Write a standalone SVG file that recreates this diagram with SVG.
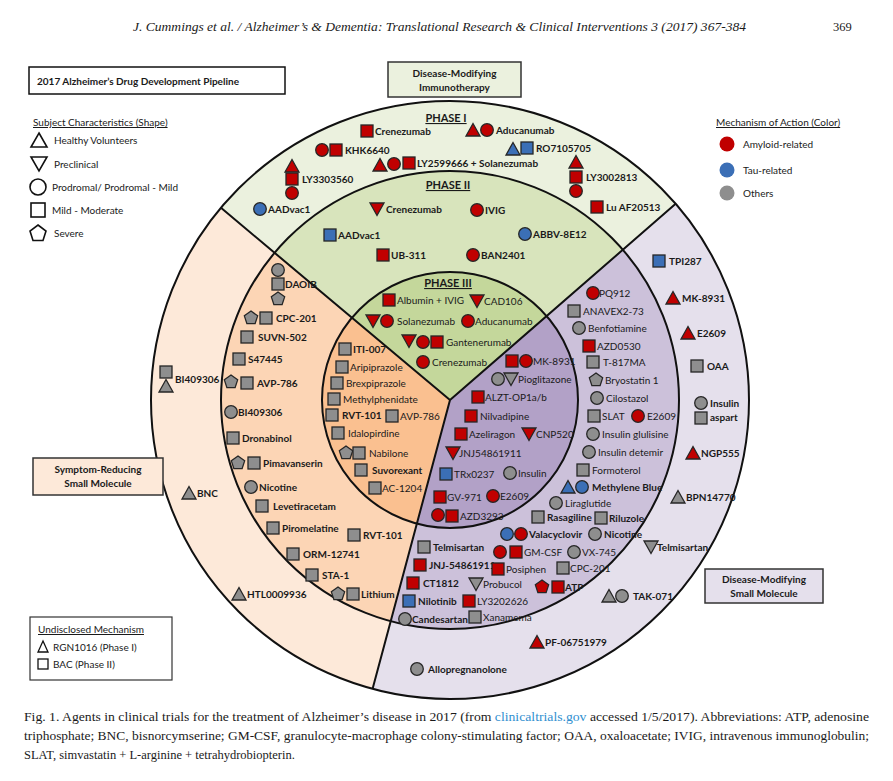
<svg xmlns="http://www.w3.org/2000/svg" width="893" height="781" viewBox="0 0 893 781">
<style>
.t{font-family:Lato,"Open Sans","Liberation Sans",sans-serif;font-size:10px;fill:#1a1a1a}
.b{font-weight:bold}
.lg{font-family:Lato,"Open Sans","Liberation Sans",sans-serif;font-size:10px;fill:#1a1a1a}
.ph{font-family:Lato,"Open Sans","Liberation Sans",sans-serif;font-size:11px;font-weight:bold;fill:#1a1a1a;text-decoration:underline;text-anchor:middle}
.bx{font-family:Lato,"Open Sans","Liberation Sans",sans-serif;font-size:10px;font-weight:bold;fill:#1a1a1a;text-anchor:middle}
.r{fill:#c00000}.u{fill:#3b6fb6}.g{fill:#8e8e8e}
use{stroke:#262626;stroke-width:1.3}
.ln{fill:none;stroke:#111;stroke-width:2}
.ol{fill:#fff;stroke:#111;stroke-width:1.6}
.cap{font-family:"Liberation Serif","Times New Roman",serif;font-size:12.5px;fill:#1a1a1a}
</style>
<defs>
<rect id="sq" x="-6" y="-6" width="12" height="12"/>
<circle id="ci" r="6.3"/>
<path id="tu" d="M0,-6.5 L7,6 L-7,6 Z"/>
<path id="td" d="M-7,-6 L7,-6 L0,6.5 Z"/>
<path id="pe" d="M0,-7 L6.66,-2.16 L4.11,5.66 L-4.11,5.66 L-6.66,-2.16 Z"/>
</defs>
<rect width="893" height="781" fill="#fff"/>
<text x="133" y="31" class="cap" font-style="italic" font-size="13.5" textLength="613" lengthAdjust="spacingAndGlyphs">J. Cummings et al. / Alzheimer’s &amp; Dementia: Translational Research &amp; Clinical Interventions 3 (2017) 367-384</text>
<text x="833" y="31" class="cap" font-size="13.5">369</text>

<g id="sectors">
<path d="M450,400 L220.95,207.81 A299,299 0 0 1 675.66,203.84 Z" fill="#ebf1de"/>
<path d="M450,400 L675.66,203.84 A299,299 0 0 1 372.61,688.81 Z" fill="#e5e0ec"/>
<path d="M450,400 L372.61,688.81 A299,299 0 0 1 220.95,207.81 Z" fill="#fde9d9"/>
<path d="M450,400 L274.58,252.80 A229,229 0 0 1 622.83,249.76 Z" fill="#d8e4bc"/>
<path d="M450,400 L622.83,249.76 A229,229 0 0 1 390.73,621.20 Z" fill="#ccc1da"/>
<path d="M450,400 L390.73,621.20 A229,229 0 0 1 274.58,252.80 Z" fill="#fcd5b5"/>
<path d="M450,400 L351.95,317.72 A128,128 0 0 1 546.60,316.02 Z" fill="#c4d79b"/>
<path d="M450,400 L546.60,316.02 A128,128 0 0 1 416.87,523.64 Z" fill="#b2a1c7"/>
<path d="M450,400 L416.87,523.64 A128,128 0 0 1 351.95,317.72 Z" fill="#fac090"/>
<circle cx="450" cy="400" r="299" class="ln" stroke-width="2.2"/>
<circle cx="450" cy="400" r="229" class="ln"/>
<circle cx="450" cy="400" r="128" class="ln"/>
<path d="M450,400 L220.95,207.81 M450,400 L675.66,203.84 M450,400 L372.61,688.81" class="ln"/>
</g>

<g id="title"><rect x="29" y="67" width="256" height="27" fill="#fff" stroke="#111" stroke-width="1.5"/><text x="37" y="85" class="lg b" font-size="11.5">2017 Alzheimer’s Drug Development Pipeline</text></g>
<g id="box-immuno"><rect x="388" y="62" width="133" height="35" fill="#ebf1de" stroke="#333" stroke-width="1.5"/><text x="454.5" y="77" class="bx">Disease-Modifying</text><text x="454.5" y="91" class="bx">Immunotherapy</text></g>
<g id="box-symptom"><rect x="33" y="458" width="130" height="37" fill="#fde9d9" stroke="#333" stroke-width="1.5"/><text x="98" y="473" class="bx">Symptom-Reducing</text><text x="98" y="487" class="bx">Small Molecule</text></g>
<g id="box-dmsm"><rect x="705" y="569" width="118" height="34" fill="#e5e0ec" stroke="#333" stroke-width="1.5"/><text x="764" y="583" class="bx">Disease-Modifying</text><text x="764" y="597" class="bx">Small Molecule</text></g>

<g id="legend-shape">
<text x="33" y="126" class="lg" text-decoration="underline">Subject Characteristics (Shape)</text>
<path d="M39,133 L47,147 L31,147 Z" class="ol"/><text x="54" y="144" class="lg">Healthy Volunteers</text>
<path d="M31,157 L47,157 L39,171 Z" class="ol"/><text x="54" y="168" class="lg">Preclinical</text>
<circle cx="38" cy="187" r="8" class="ol"/><text x="52" y="191" class="lg">Prodromal/ Prodromal - Mild</text>
<rect x="31" y="203" width="14" height="14" class="ol"/><text x="52" y="214" class="lg">Mild - Moderate</text>
<path d="M38,225 L46,231 L43,240.5 L33,240.5 L30,231 Z" class="ol"/><text x="54" y="237" class="lg">Severe</text>
</g>
<g id="legend-color">
<text x="716" y="126" class="lg" text-decoration="underline">Mechanism of Action (Color)</text>
<circle cx="727" cy="144" r="7.5" fill="#c00000"/><text x="743" y="148" class="lg">Amyloid-related</text>
<circle cx="727" cy="170" r="7.5" fill="#3b6fb6"/><text x="743" y="174" class="lg">Tau-related</text>
<circle cx="727" cy="193" r="7.5" fill="#8e8e8e"/><text x="743" y="197" class="lg">Others</text>
</g>
<g id="legend-undisclosed">
<rect x="30" y="617" width="142" height="63" fill="#fff" stroke="#333" stroke-width="1.2"/>
<text x="38" y="633" class="t" text-decoration="underline">Undisclosed Mechanism</text>
<path d="M43,641 L48,652 L38,652 Z" fill="#fff" stroke="#111" stroke-width="1.3"/><text x="53" y="651" class="t">RGN1016 (Phase I)</text>
<rect x="38" y="659" width="10" height="10" fill="#fff" stroke="#111" stroke-width="1.3"/><text x="53" y="668" class="t">BAC (Phase II)</text>
</g>

<g id="phase-labels">
<text x="446" y="122" class="ph">PHASE I</text>
<text x="448" y="189" class="ph">PHASE II</text>
<text x="448" y="287" class="ph">PHASE III</text>
</g>

<!-- Phase I -->
<g id="p1-crenezumab"><use href="#sq" class="r" x="367" y="131"/><text x="375" y="135" class="t b">Crenezumab</text></g>
<g id="p1-aducanumab"><use href="#tu" class="r" x="473" y="130"/><use href="#ci" class="r" x="487" y="130"/><text x="496" y="134" class="t b">Aducanumab</text></g>
<g id="p1-khk6640"><use href="#ci" class="r" x="322" y="150"/><use href="#sq" class="r" x="336" y="150"/><text x="345" y="154" class="t b">KHK6640</text></g>
<g id="p1-ro7105705"><use href="#tu" class="u" x="513" y="149"/><use href="#sq" class="u" x="527" y="148"/><text x="536" y="152" class="t b">RO7105705</text></g>
<g id="p1-ly2599666"><use href="#tu" class="r" x="380" y="165"/><use href="#ci" class="r" x="394" y="164"/><use href="#sq" class="r" x="409" y="163"/><text x="417" y="167" class="t b">LY2599666 + Solanezumab</text></g>
<g id="p1-ly3303560"><use href="#tu" class="r" x="292" y="166"/><use href="#sq" class="r" x="292" y="179"/><use href="#ci" class="r" x="292" y="193"/><text x="302" y="183" class="t b">LY3303560</text></g>
<g id="p1-ly3002813"><use href="#tu" class="r" x="576" y="162"/><use href="#sq" class="r" x="576" y="177"/><use href="#ci" class="r" x="576" y="191"/><text x="586" y="181" class="t b">LY3002813</text></g>
<g id="p1-luaf20513"><use href="#sq" class="r" x="597" y="207"/><text x="606" y="211" class="t b">Lu AF20513</text></g>
<g id="p1-aadvac1"><use href="#ci" class="u" x="260" y="209"/><text x="268" y="213" class="t b">AADvac1</text></g>

<!-- Phase II -->
<g id="p2-crenezumab"><use href="#td" class="r" x="377" y="209"/><text x="386" y="213" class="t b">Crenezumab</text></g>
<g id="p2-ivig"><use href="#ci" class="r" x="477" y="210"/><text x="485" y="214" class="t b">IVIG</text></g>
<g id="p2-aadvac1"><use href="#sq" class="u" x="330" y="235"/><text x="338" y="239" class="t b">AADvac1</text></g>
<g id="p2-abbv8e12"><use href="#ci" class="u" x="525" y="234"/><text x="533" y="238" class="t b">ABBV-8E12</text></g>
<g id="p2-ub311"><use href="#sq" class="r" x="383" y="255"/><text x="391" y="259" class="t b">UB-311</text></g>
<g id="p2-ban2401"><use href="#ci" class="r" x="473" y="255"/><text x="481" y="259" class="t b">BAN2401</text></g>

<!-- Phase III immunotherapy -->
<g id="p3-albumin"><use href="#sq" class="r" x="389" y="300"/><text x="397" y="304" class="t">Albumin + IVIG</text></g>
<g id="p3-cad106"><use href="#td" class="r" x="477" y="301"/><text x="484" y="305" class="t">CAD106</text></g>
<g id="p3-solanezumab"><use href="#td" class="r" x="373" y="321"/><use href="#ci" class="r" x="387" y="321"/><text x="397" y="325" class="t">Solanezumab</text></g>
<g id="p3-aducanumab"><use href="#ci" class="r" x="468" y="321"/><text x="475" y="325" class="t">Aducanumab</text></g>
<g id="p3-gantenerumab"><use href="#td" class="r" x="409" y="341"/><use href="#ci" class="r" x="423" y="342"/><use href="#sq" class="r" x="437" y="342"/><text x="446" y="346" class="t">Gantenerumab</text></g>
<g id="p3-crenezumab"><use href="#ci" class="r" x="423" y="362"/><text x="432" y="366" class="t">Crenezumab</text></g>

<!-- Symptom-reducing Phase III -->
<g id="s3-iti007"><use href="#sq" class="g" x="345" y="349"/><text x="353" y="353" class="t b">ITI-007</text></g>
<g id="s3-aripiprazole"><use href="#sq" class="g" x="342" y="367"/><text x="350" y="371" class="t">Aripiprazole</text></g>
<g id="s3-brexpiprazole"><use href="#sq" class="g" x="337" y="383"/><text x="346" y="387" class="t">Brexpiprazole</text></g>
<g id="s3-methylphenidate"><use href="#sq" class="g" x="334" y="399"/><text x="343" y="403" class="t">Methylphenidate</text></g>
<g id="s3-rvt101"><use href="#sq" class="g" x="332" y="415"/><text x="342" y="419" class="t b">RVT-101</text></g>
<g id="s3-avp786"><use href="#sq" class="g" x="392" y="416"/><text x="400" y="420" class="t">AVP-786</text></g>
<g id="s3-idalopirdine"><use href="#sq" class="g" x="338" y="433"/><text x="348" y="437" class="t">Idalopirdine</text></g>
<g id="s3-nabilone"><use href="#pe" class="g" x="346" y="453"/><use href="#sq" class="g" x="359" y="453"/><text x="369" y="457" class="t">Nabilone</text></g>
<g id="s3-suvorexant"><use href="#sq" class="g" x="361" y="470"/><text x="372" y="474" class="t b">Suvorexant</text></g>
<g id="s3-ac1204"><use href="#sq" class="g" x="375" y="488"/><text x="382" y="492" class="t">AC-1204</text></g>

<!-- Symptom-reducing Phase II -->
<g id="s2-daoib"><use href="#ci" class="g" x="278" y="270"/><use href="#sq" class="g" x="278" y="284"/><use href="#pe" class="g" x="278" y="299"/><text x="285" y="288" class="t b">DAOIB</text></g>
<g id="s2-cpc201"><use href="#pe" class="g" x="251" y="318"/><use href="#sq" class="g" x="266" y="318"/><text x="276" y="322" class="t b">CPC-201</text></g>
<g id="s2-suvn502"><use href="#sq" class="g" x="247" y="337"/><text x="258" y="341" class="t b">SUVN-502</text></g>
<g id="s2-s47445"><use href="#sq" class="g" x="239" y="359"/><text x="248" y="363" class="t b">S47445</text></g>
<g id="s2-avp786"><use href="#pe" class="g" x="231" y="382"/><use href="#sq" class="g" x="247" y="383"/><text x="257" y="387" class="t b">AVP-786</text></g>
<g id="s2-bi409306"><use href="#ci" class="g" x="231" y="412"/><text x="238" y="416" class="t b">BI409306</text></g>
<g id="s2-dronabinol"><use href="#sq" class="g" x="233" y="438"/><text x="242" y="442" class="t b">Dronabinol</text></g>
<g id="s2-pimavanserin"><use href="#pe" class="g" x="238" y="463"/><use href="#sq" class="g" x="254" y="463"/><text x="263" y="467" class="t b">Pimavanserin</text></g>
<g id="s2-nicotine"><use href="#ci" class="g" x="251" y="487"/><text x="259" y="491" class="t b">Nicotine</text></g>
<g id="s2-levetiracetam"><use href="#sq" class="g" x="262" y="506"/><text x="273" y="510" class="t b">Levetiracetam</text></g>
<g id="s2-piromelatine"><use href="#sq" class="g" x="273" y="528"/><text x="282" y="532" class="t b">Piromelatine</text></g>
<g id="s2-rvt101"><use href="#sq" class="g" x="354" y="535"/><text x="363" y="539" class="t b">RVT-101</text></g>
<g id="s2-orm12741"><use href="#sq" class="g" x="293" y="554"/><text x="303" y="558" class="t b">ORM-12741</text></g>
<g id="s2-sta1"><use href="#sq" class="g" x="312" y="575"/><text x="322" y="579" class="t b">STA-1</text></g>
<g id="s2-lithium"><use href="#pe" class="g" x="338" y="594"/><use href="#sq" class="g" x="353" y="594"/><text x="361" y="598" class="t b">Lithium</text></g>

<!-- Symptom-reducing Phase I -->
<g id="s1-bi409306"><use href="#sq" class="g" x="166" y="372"/><use href="#tu" class="g" x="166" y="386"/><text x="175" y="383" class="t b">BI409306</text></g>
<g id="s1-bnc"><use href="#tu" class="g" x="189" y="493"/><text x="197" y="497" class="t b">BNC</text></g>
<g id="s1-htl0009936"><use href="#tu" class="g" x="239" y="594"/><text x="247" y="598" class="t b">HTL0009936</text></g>

<!-- Small molecule Phase III -->
<g id="m3-mk8931"><use href="#sq" class="r" x="512" y="361"/><use href="#ci" class="r" x="526" y="361"/><text x="533" y="365" class="t">MK-8931</text></g>
<g id="m3-pioglitazone"><use href="#ci" class="g" x="498" y="379"/><use href="#td" class="g" x="511" y="379"/><text x="518" y="383" class="t">Pioglitazone</text></g>
<g id="m3-alzt"><use href="#sq" class="r" x="478" y="397"/><text x="485" y="401" class="t">ALZT-OP1a/b</text></g>
<g id="m3-nilvadipine"><use href="#sq" class="r" x="471" y="416"/><text x="480" y="420" class="t">Nilvadipine</text></g>
<g id="m3-azeliragon"><use href="#sq" class="r" x="461" y="434"/><text x="469" y="438" class="t">Azeliragon</text></g>
<g id="m3-cnp520"><use href="#td" class="r" x="529" y="434"/><text x="536" y="438" class="t">CNP520</text></g>
<g id="m3-jnj54861911"><use href="#td" class="r" x="453" y="453"/><text x="459" y="457" class="t">JNJ54861911</text></g>
<g id="m3-trx0237"><use href="#sq" class="u" x="446" y="474"/><text x="454" y="478" class="t">TRx0237</text></g>
<g id="m3-insulin"><use href="#ci" class="g" x="510" y="473"/><text x="518" y="477" class="t">Insulin</text></g>
<g id="m3-gv971"><use href="#sq" class="r" x="440" y="497"/><text x="447" y="501" class="t">GV-971</text></g>
<g id="m3-e2609"><use href="#ci" class="r" x="493" y="496"/><text x="500" y="500" class="t">E2609</text></g>
<g id="m3-azd3293"><use href="#ci" class="r" x="438" y="515"/><use href="#sq" class="r" x="452" y="516"/><text x="460" y="520" class="t">AZD3293</text></g>

<!-- Small molecule Phase II -->
<g id="m2-pq912"><use href="#ci" class="r" x="593" y="293"/><text x="599" y="297" class="t">PQ912</text></g>
<g id="m2-anavex"><use href="#sq" class="g" x="574" y="311"/><text x="583" y="315" class="t">ANAVEX2-73</text></g>
<g id="m2-benfotiamine"><use href="#ci" class="g" x="579" y="328"/><text x="588" y="332" class="t">Benfotiamine</text></g>
<g id="m2-azd0530"><use href="#sq" class="r" x="589" y="346"/><text x="597" y="350" class="t">AZD0530</text></g>
<g id="m2-t817ma"><use href="#sq" class="g" x="593" y="362"/><text x="603" y="366" class="t">T-817MA</text></g>
<g id="m2-bryostatin"><use href="#pe" class="g" x="596" y="380"/><text x="605" y="384" class="t">Bryostatin 1</text></g>
<g id="m2-cilostazol"><use href="#ci" class="g" x="597" y="398"/><text x="606" y="402" class="t">Cilostazol</text></g>
<g id="m2-slat"><use href="#sq" class="g" x="594" y="416"/><text x="602" y="420" class="t">SLAT</text></g>
<g id="m2-e2609"><use href="#ci" class="r" x="638" y="416"/><text x="647" y="420" class="t">E2609</text></g>
<g id="m2-glulisine"><use href="#ci" class="g" x="593" y="434"/><text x="602" y="438" class="t">Insulin glulisine</text></g>
<g id="m2-detemir"><use href="#ci" class="g" x="589" y="452"/><text x="598" y="456" class="t">Insulin detemir</text></g>
<g id="m2-formoterol"><use href="#sq" class="g" x="583" y="470"/><text x="592" y="474" class="t">Formoterol</text></g>
<g id="m2-methyleneblue"><use href="#tu" class="u" x="568" y="487"/><use href="#ci" class="u" x="582" y="487"/><text x="592" y="491" class="t b">Methylene Blue</text></g>
<g id="m2-liraglutide"><use href="#ci" class="g" x="556" y="503"/><text x="565" y="507" class="t">Liraglutide</text></g>
<g id="m2-rasagiline"><use href="#sq" class="g" x="538" y="517"/><text x="547" y="521" class="t b">Rasagiline</text></g>
<g id="m2-riluzole"><use href="#sq" class="g" x="601" y="518"/><text x="609" y="522" class="t b">Riluzole</text></g>
<g id="m2-valacyclovir"><use href="#ci" class="u" x="507" y="534"/><use href="#ci" class="r" x="521" y="534"/><text x="529" y="538" class="t b">Valacyclovir</text></g>
<g id="m2-nicotine"><use href="#ci" class="g" x="595" y="534"/><text x="604" y="538" class="t b">Nicotine</text></g>
<g id="m2-telmisartan"><use href="#sq" class="g" x="424" y="547"/><text x="433" y="551" class="t b">Telmisartan</text></g>
<g id="m2-gmcsf"><use href="#ci" class="r" x="500" y="552"/><use href="#sq" class="r" x="516" y="552"/><text x="524" y="556" class="t">GM-CSF</text></g>
<g id="m2-vx745"><use href="#ci" class="g" x="574" y="552"/><text x="582" y="556" class="t">VX-745</text></g>
<g id="m2-jnj"><use href="#sq" class="r" x="420" y="565"/><text x="429" y="569" class="t b">JNJ-54861911</text></g>
<g id="m2-posiphen"><use href="#sq" class="r" x="498" y="569"/><text x="506" y="573" class="t">Posiphen</text></g>
<g id="m2-cpc201"><use href="#sq" class="g" x="563" y="568"/><text x="570" y="572" class="t">CPC-201</text></g>
<g id="m2-ct1812"><use href="#sq" class="r" x="413" y="583"/><text x="423" y="587" class="t b">CT1812</text></g>
<g id="m2-probucol"><use href="#td" class="g" x="476" y="584"/><text x="483" y="588" class="t">Probucol</text></g>
<g id="m2-atp"><use href="#pe" class="r" x="542" y="587"/><use href="#sq" class="r" x="558" y="587"/><text x="565" y="591" class="t b">ATP</text></g>
<g id="m2-nilotinib"><use href="#sq" class="u" x="409" y="601"/><text x="418" y="605" class="t b">Nilotinib</text></g>
<g id="m2-ly3202626"><use href="#sq" class="r" x="469" y="601"/><text x="477" y="605" class="t">LY3202626</text></g>
<g id="m2-candesartan"><use href="#ci" class="g" x="405" y="619"/><text x="412" y="623" class="t b">Candesartan</text></g>
<g id="m2-xanamema"><use href="#sq" class="g" x="475" y="617"/><text x="483" y="621" class="t">Xanamema</text></g>

<!-- Small molecule Phase I -->
<g id="m1-tpi287"><use href="#sq" class="u" x="659" y="261"/><text x="669" y="265" class="t b">TPI287</text></g>
<g id="m1-mk8931"><use href="#tu" class="r" x="673" y="298"/><text x="682" y="302" class="t b">MK-8931</text></g>
<g id="m1-e2609"><use href="#tu" class="r" x="688" y="333"/><text x="697" y="337" class="t b">E2609</text></g>
<g id="m1-oaa"><use href="#sq" class="g" x="697" y="366"/><text x="707" y="370" class="t b">OAA</text></g>
<g id="m1-insulinaspart"><use href="#ci" class="g" x="701" y="403"/><use href="#sq" class="g" x="701" y="418"/><text x="710" y="407" class="t b">Insulin</text><text x="710" y="421" class="t b">aspart</text></g>
<g id="m1-ngp555"><use href="#tu" class="r" x="693" y="453"/><text x="701" y="457" class="t b">NGP555</text></g>
<g id="m1-bpn14770"><use href="#tu" class="g" x="678" y="497"/><text x="686" y="501" class="t b">BPN14770</text></g>
<g id="m1-telmisartan"><use href="#td" class="g" x="651" y="547"/><text x="657" y="551" class="t b">Telmisartan</text></g>
<g id="m1-tak071"><use href="#tu" class="g" x="609" y="596"/><use href="#ci" class="g" x="622" y="596"/><text x="633" y="600" class="t b">TAK-071</text></g>
<g id="m1-pf06751979"><use href="#tu" class="r" x="537" y="642"/><text x="545" y="646" class="t b">PF-06751979</text></g>
<g id="m1-allopregnanolone"><use href="#ci" class="g" x="417" y="669"/><text x="428" y="673" class="t b">Allopregnanolone</text></g>

<g id="caption">
<text x="24" y="721" class="cap" textLength="845" lengthAdjust="spacingAndGlyphs">Fig. 1. Agents in clinical trials for the treatment of Alzheimer’s disease in 2017 (from <tspan fill="#2f8fd0">clinicaltrials.gov</tspan> accessed 1/5/2017). Abbreviations: ATP, adenosine</text>
<text x="24" y="740" class="cap" textLength="845" lengthAdjust="spacingAndGlyphs">triphosphate; BNC, bisnorcymserine; GM-CSF, granulocyte-macrophage colony-stimulating factor; OAA, oxaloacetate; IVIG, intravenous immunoglobulin;</text>
<text x="24" y="759" class="cap">SLAT, simvastatin + L-arginine + tetrahydrobiopterin.</text>
</g>
</svg>
